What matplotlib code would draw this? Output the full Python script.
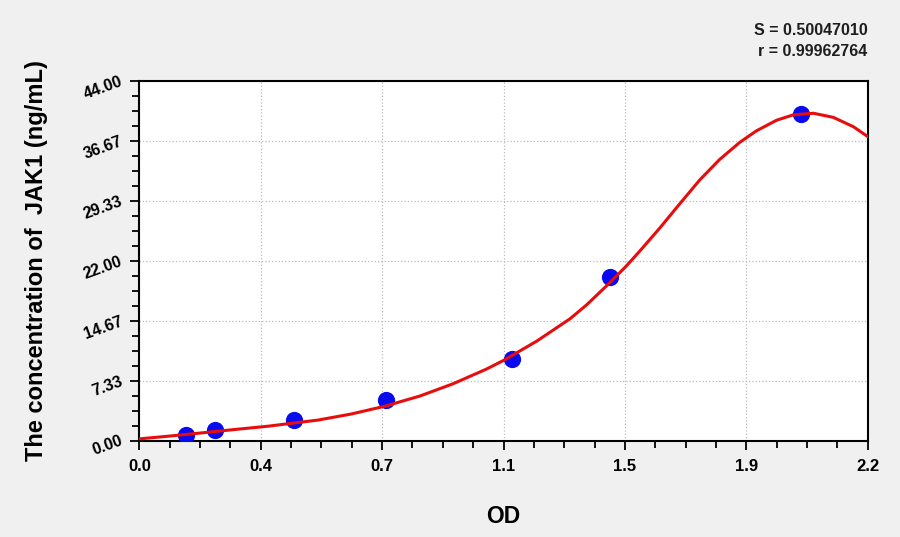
import numpy as np
import matplotlib.pyplot as plt
from matplotlib.ticker import AutoMinorLocator

# standards (OD vs concentration)
od = [0.142, 0.229, 0.467, 0.744, 1.127, 1.423, 2.0]
conc = [0.625, 1.25, 2.5, 5.0, 10.0, 20.0, 40.0]

# fitted curve
curve_od = [0.0, 0.088, 0.188, 0.289, 0.389, 0.47, 0.54, 0.641, 0.742, 0.848,
            0.948, 1.049, 1.1, 1.2, 1.301, 1.351, 1.421, 1.472, 1.512, 1.572,
            1.633, 1.693, 1.753, 1.814, 1.864, 1.925, 1.975, 2.036, 2.096,
            2.157, 2.2]
curve_conc = [0.2, 0.53, 0.93, 1.35, 1.75, 2.16, 2.5, 3.25, 4.2, 5.45,
              6.95, 8.75, 9.8, 12.15, 14.9, 16.6, 19.3, 21.4, 23.2, 26.0,
              29.0, 31.9, 34.4, 36.5, 37.9, 39.2, 39.85, 40.05, 39.55,
              38.4, 37.2]

x_ticks = [0.0, 2.2 / 6, 4.4 / 6, 1.1, 8.8 / 6, 11 / 6, 2.2]
x_tick_labels = ["0.0", "0.4", "0.7", "1.1", "1.5", "1.9", "2.2"]
y_ticks = [0.0, 44 / 6, 88 / 6, 22.0, 176 / 6, 220 / 6, 44.0]
y_tick_labels = ["0.00", "7.33", "14.67", "22.00", "29.33", "36.67", "44.00"]

S_value = "0.50047010"
r_value = "0.99962764"

plt.rcParams["font.family"] = ["Liberation Sans", "DejaVu Sans"]
plt.rcParams["font.weight"] = "bold"

fig = plt.figure(figsize=(9, 5.37), dpi=100, facecolor="#f0f0f0")
ax = fig.add_axes([0.1548, 0.1797, 0.8093, 0.6695])
ax.set_facecolor("white")

ax.scatter(od, conc, s=130, color="#0a0aee", zorder=3)
ax.plot(curve_od, curve_conc, color="#e80c0c", lw=2.2, zorder=4,
        solid_joinstyle="round", solid_capstyle="round")

ax.set_xlim(0, 2.2)
ax.set_ylim(0, 44)
ax.set_xticks(x_ticks)
ax.set_xticklabels(x_tick_labels, fontsize=12, fontweight="bold")
ax.set_yticks(y_ticks)
ax.set_yticklabels(y_tick_labels, fontsize=11.5, fontweight="bold",
                   rotation=20, ha="right", va="center", rotation_mode="anchor")
ax.xaxis.set_minor_locator(AutoMinorLocator(4))
ax.yaxis.set_minor_locator(AutoMinorLocator(4))
ax.tick_params(which="major", length=6.5, width=1.3, direction="out", color="black")
ax.tick_params(which="minor", length=5, width=1.3, direction="out", color="black")
ax.tick_params(axis="x", pad=7)
ax.tick_params(axis="y", pad=6)

for sp in ax.spines.values():
    sp.set_linewidth(1.5)
    sp.set_color("black")

ax.grid(True, which="major", linestyle=":", color="#bbbbbb", linewidth=0.9)
ax.set_axisbelow(True)

ax.set_xlabel("OD", fontsize=16.5, fontweight="bold", labelpad=22)
ax.set_ylabel("The concentration of  JAK1 (ng/mL)", fontsize=17,
              fontweight="bold", labelpad=24)

fig.text(0.964, 0.944, "S = " + S_value, ha="right", va="center",
         fontsize=11.5, fontweight="bold", color="#1e1e1e")
fig.text(0.964, 0.904, "r = " + r_value, ha="right", va="center",
         fontsize=11.5, fontweight="bold", color="#1e1e1e")

fig.savefig("out.png", dpi=100, facecolor=fig.get_facecolor())
